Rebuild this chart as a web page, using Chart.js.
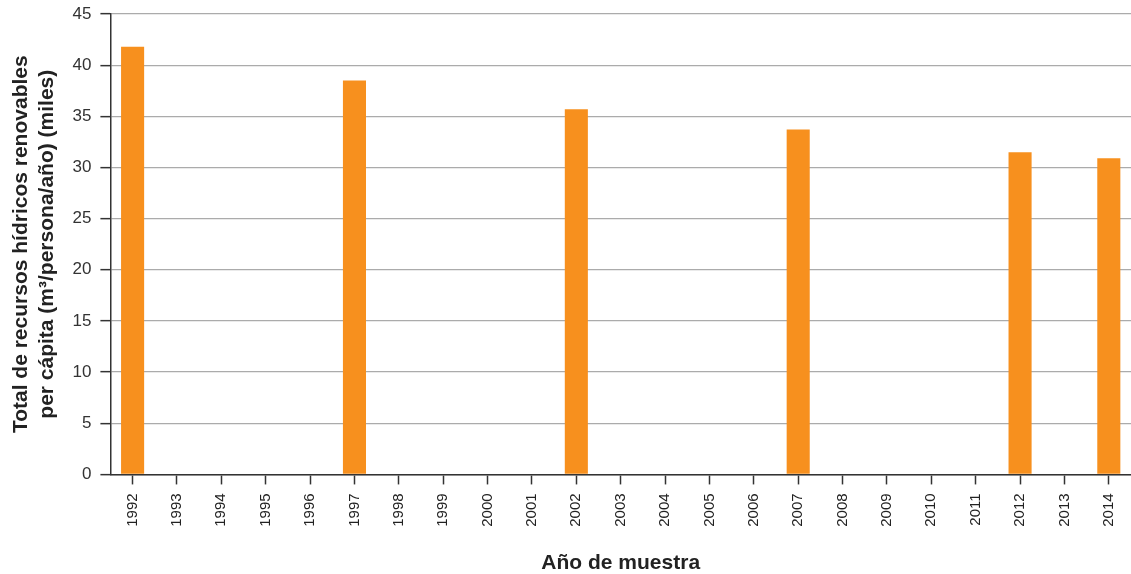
<!DOCTYPE html>
<html>
<head>
<meta charset="utf-8">
<script src="https://cdn.jsdelivr.net/npm/chart.js@4"></script>
<style>
  html, body { margin: 0; padding: 0; background: #fff; }
  #wrap { width: 1131px; height: 574px; position: relative; }
</style>
</head>
<body>
<div id="wrap"><canvas id="chart"></canvas></div>
<script>
var years = ['1992','1993','1994','1995','1996','1997','1998','1999','2000','2001','2002','2003',
             '2004','2005','2006','2007','2008','2009','2010','2011','2012','2013','2014'];
var recursos = [41.8, null, null, null, null, 38.5, null, null, null, null, 35.7, null,
                null, null, null, 33.7, null, null, null, null, 31.5, null, 30.9];
var yTitle = ['Total de recursos hídricos renovables', 'per cápita (m³/persona/año) (miles)'];
var xTitle = 'Año de muestra';

var fontFam = '"Liberation Sans", Arial, Helvetica, sans-serif';

function initChart(){
  const cfg = {
    type: 'bar',
    data: {
      labels: years,
      datasets: [{
        label: 'recursos',
        data: recursos,
        backgroundColor: '#F7901E',
        barPercentage: 0.52,
        categoryPercentage: 1.0
      }]
    },
    options: {
      responsive: true,
      maintainAspectRatio: false,
      animation: false,
      layout: { padding: { top: 14, right: 0, left: 4, bottom: -2 } },
      plugins: {
        legend: { display: false },
        tooltip: { enabled: false }
      },
      scales: {
        x: {
          afterFit: function(scale){ scale.paddingRight = 0; },
          grid: { offset: false, drawOnChartArea: false, drawTicks: true, tickLength: 10, tickColor: '#333', tickWidth: 1.5 },
          border: { color: '#333', width: 1.5 },
          ticks: { color: '#222', font: { family: fontFam, size: 15 }, minRotation: 90, maxRotation: 90, padding: 9 },
          title: { display: true, text: xTitle, color: '#222', font: { family: fontFam, size: 21, weight: 'bold' }, padding: { top: 15, bottom: 0 } }
        },
        y: {
          min: 0, max: 45,
          afterFit: function(scale){ scale.paddingTop = 0; },
          ticks: { stepSize: 5, color: '#333', font: { family: fontFam, size: 17 }, padding: 9 },
          grid: { color: '#ababab', lineWidth: 1.3, tickLength: 10, tickColor: '#333', tickWidth: 1.5 },
          border: { color: '#333', width: 1.5 },
          title: { display: true, text: yTitle, color: '#222', font: { family: fontFam, size: 21, weight: 'bold', lineHeight: 1.25 }, padding: { top: 4, bottom: 3 } }
        }
      }
    }
  };
  new Chart(document.getElementById('chart'), cfg);
}
initChart();
</script>
</body>
</html>
